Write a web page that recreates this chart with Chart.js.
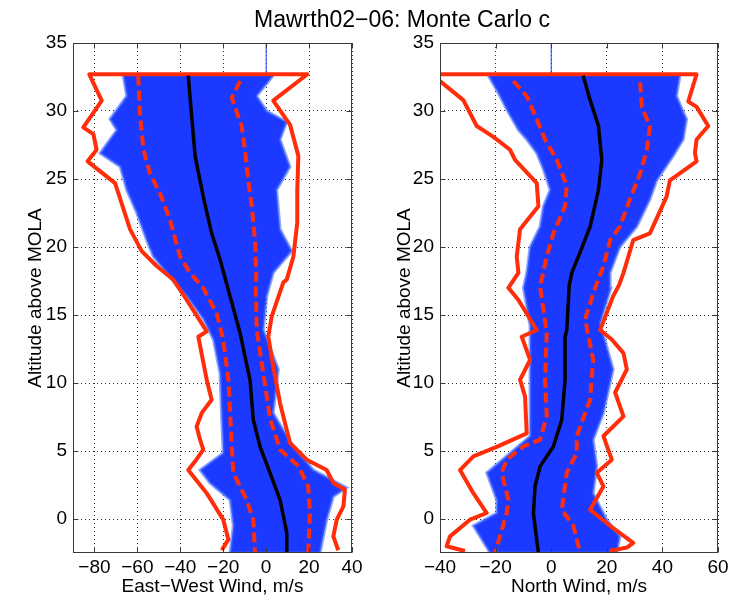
<!DOCTYPE html>
<html><head><meta charset="utf-8">
<script src="https://cdn.jsdelivr.net/npm/chart.js@4.4.1/dist/chart.umd.min.js"></script>
<style>
html,body{margin:0;padding:0;background:#fff;}
#wrap{position:relative;width:736px;height:600px;overflow:hidden;}
#c1{position:absolute;left:0;top:0;}
#c2{position:absolute;left:368px;top:0;}
#title{position:absolute;top:6px;left:202px;width:400px;text-align:center;font:23px 'Liberation Sans',Arial,sans-serif;color:#000;line-height:26px;white-space:nowrap;}
</style></head><body>
<div id="wrap">
<canvas id="c1" width="368" height="600" style="width:368px;height:600px"></canvas>
<canvas id="c2" width="368" height="600" style="width:368px;height:600px"></canvas>
<div id="title">Mawrth02−06: Monte Carlo c</div>
</div>
<script>
// ---- shared ticks ----
const altTicks = [0, 5, 10, 15, 20, 25, 30, 35];
const ewTicks = [-80, -60, -40, -20, 0, 20, 40];
const nsTicks = [-40, -20, 0, 20, 40, 60];
const topStub = [[0, 32.7], [0, 35]];

// ---- East-West panel: [wind m/s, altitude] ----
const ewOuterL = [[-82.4,32.7],[-76.6,30.76],[-85.2,28.8],[-80.5,28.3],[-79,27.15],[-83.2,26.3],[-70.4,24.7],[-63.4,21.3],[-58,19.7],[-51,18.6],[-44.8,17.8],[-43.3,17.6],[-37,16.1],[-27.7,13.8],[-31.6,13.4],[-27.7,10.24],[-25.4,8.77],[-30,7.8],[-32.4,6.8],[-30.8,5.83],[-29.3,5.1],[-33.1,4.24],[-36.3,3.6],[-27.7,1.9],[-20,-0.05],[-17.6,-1.5],[-20.7,-2.3]];
const ewOuterR = [[19.2,32.7],[3.3,30.76],[11.1,29.0],[15,26.7],[14.5,24.2],[14.5,21.8],[12.7,19.3],[9.6,17.6],[8,17.4],[2.6,14.9],[1,13.4],[3.3,11.2],[6.5,8.5],[11.1,5.6],[18.9,4.36],[28.2,3.6],[31.3,2.65],[36.7,2.15],[36,0.93],[32.9,-0.05],[31.3,-1.28],[33.6,-2.3]];
const ewDashL = [[-59.6,32.6],[-58.8,29.85],[-57.2,27.15],[-54.1,25.4],[-49.5,23.97],[-44.8,22],[-40.1,19.3],[-35.5,18.1],[-29.3,17.0],[-23,15.1],[-20,13.2],[-17.6,10.24],[-16.8,7.8],[-16,5.3],[-15.3,3.4],[-9.1,1.4],[-6,-0.05],[-5.2,-2.5]];
const ewDashR = [[-12.2,32.2],[-16,30.96],[-11.4,28.9],[-9.9,27.15],[-8.3,24.9],[-6.7,23],[-5.2,20.5],[-4.6,18.1],[-4.8,17.1],[-4.4,13.9],[-1.3,10.7],[1.8,7.4],[6.5,5.1],[15,3.9],[19.6,2.4],[20.4,0.44],[19.6,-2.5]];
const ewMean = [[-36.3,32.6],[-34.7,29.6],[-33.1,26.7],[-29.3,23.7],[-25.4,21],[-21.5,19.1],[-18.4,17.3],[-12.2,13.7],[-7.5,10.2],[-6,7.3],[-2.8,5.3],[1.8,3.4],[6.5,1.4],[9.6,-1.0],[9.6,-2.5]];
const ewBlueL = [[-66.6,32.6],[-65,31.1],[-72.8,29.4],[-69.6,28.6],[-77.4,26.9],[-68,25.9],[-65,24.2],[-60.3,22.5],[-55.7,20.5],[-52.6,19.3],[-46.3,18.1],[-41.7,17.2],[-37,16.4],[-29.3,14.7],[-24.6,13.2],[-21.5,10.7],[-20.7,7.3],[-20,4.85],[-30.8,3.6],[-26.2,2.65],[-16.8,1.4],[-15.3,-0.5],[-16.8,-2.5]];
const ewBlueR = [[3.3,32.6],[-4.4,31.1],[0.3,30],[9.6,29.2],[6.5,27.9],[11.1,25.9],[4.9,24.2],[6.5,21.3],[11.9,19.7],[3.3,18.1],[0.3,16.4],[-1.3,13.9],[5.7,11],[3.3,7.8],[12.7,5.3],[22,3.6],[37.5,2.3],[31.3,1.65],[28.2,-0.05],[25.1,-2.5]];

// ---- North panel ----
const nsOuterL = [[-43,32.7],[-40,32.2],[-31.6,30.8],[-26.8,28.9],[-20.8,28.1],[-14.8,27.15],[-13,26.4],[-5.2,24.7],[-4.6,23],[-11.2,21.3],[-12.4,19.3],[-11.8,18.1],[-15.4,17],[-11.8,16.1],[-5.2,13.9],[-10.6,13.4],[-7.6,11.7],[-11.2,10.24],[-9.4,9.0],[-8.8,6.3],[-19.6,5.3],[-28,4.6],[-32.8,3.6],[-28,1.9],[-23.2,0.44],[-29.2,-0.05],[-36.4,-1.28],[-37.6,-2.0],[-31,-2.35]];
const nsOuterR = [[52.3,32.7],[49.3,30.7],[52.3,30.3],[56.5,28.9],[52.3,27.9],[51.7,26.9],[52.3,26.3],[42.7,24.9],[41.5,23.7],[35.5,21],[29.5,20.5],[26,18.1],[24.4,17.2],[22.3,16.4],[17.6,13.9],[21.8,13.2],[26,12.2],[27.2,11],[23,9.3],[26,7.55],[18.8,6.1],[21.8,4.36],[16.4,3.4],[18.8,2.4],[14,0.68],[21.2,-0.5],[29.5,-1.76],[27.2,-2.1],[21,-2.35]];
const nsDashL = [[-13.6,32.2],[-8.8,31.1],[-5.2,29.4],[-2.2,27.9],[2,26.4],[5.6,24.5],[5,23],[0.8,21],[-1.6,19.3],[-4,17.1],[-1.6,13.7],[-2.2,10.24],[-1.6,7.55],[-4,5.83],[-10,5.34],[-16,4.36],[-17.8,3.4],[-15.4,1.4],[-16,0.44],[-20.2,-2.5]];
const nsDashR = [[32,32.1],[32.6,30.3],[35.5,28.9],[34.4,27.15],[32,25.4],[28.3,23.5],[24.7,21.5],[21.2,20.5],[18.8,18.6],[15.8,17],[12.2,14.7],[15.1,11.7],[14,8.77],[9.2,6.1],[9.2,4.85],[5.6,3.4],[3.8,0.68],[8,-0.5],[10.4,-2.5]];
const nsMean = [[11.5,32.6],[14,30.8],[17,28.9],[18.2,26.4],[17,24.2],[14,21.5],[10.4,19.6],[7.4,18.1],[6.5,17.2],[5.6,13.9],[5,13.4],[5,10.24],[3.8,7.3],[0.8,5.34],[-4,3.87],[-5.8,2.4],[-6.4,0.44],[-4.6,-2.5]];
const nsBlueL = [[-22.6,32.6],[-19,31.3],[-16,30.1],[-11.8,28.6],[-8.8,27.9],[-5.2,26.9],[-2.8,25.7],[-0.4,24.2],[-2.8,23],[-4,21.5],[-7.6,20],[-8.8,18.1],[-10,17],[-7.6,14.2],[-7.6,11.5],[-7.6,8.3],[-7.6,6.1],[-14.8,4.85],[-23.2,3.4],[-19.6,1.4],[-19.6,0.44],[-28,-0.5],[-22,-2.5]];
const nsBlueR = [[46.3,32.6],[45.1,31.1],[48.7,29.4],[47.5,27.9],[43.9,26.7],[38,24.9],[35.5,23.5],[30.8,21.5],[24.7,20],[21.2,18.1],[21.5,17],[17.6,14.4],[22.3,11],[18.8,7.8],[15.1,5.83],[16.4,3.87],[15.1,1.9],[20,-0.05],[24.7,-1.28],[23.6,-2.5]];

const FONT = "'Liberation Sans', Arial, sans-serif";
const RED = 'rgb(255,45,10)';
const BLUE = 'rgb(28,58,255)';
const pts = a => a.map(p => ({x: p[0], y: p[1]}));
const minus = v => String(v).replace('-', '\u2212');

const framePlugin = {
  id: 'frame',
  afterDraw(chart) {
    const {ctx, chartArea: ca, scales: {x, y}} = chart;
    const L = Math.round(ca.left) + 0.5, R = Math.round(ca.right) - 0.5;
    const T = Math.round(ca.top) + 0.5, B = Math.round(ca.bottom) - 0.5;
    ctx.save();
    ctx.strokeStyle = '#3a3a3a';
    ctx.lineWidth = 1;
    ctx.strokeRect(L, T, R - L, B - T);
    ctx.beginPath();
    x.ticks.forEach(t => {
      const px = Math.round(x.getPixelForValue(t.value)) + 0.5;
      ctx.moveTo(px, B); ctx.lineTo(px, B - 5);
      ctx.moveTo(px, T); ctx.lineTo(px, T + 5);
    });
    y.ticks.forEach(t => {
      const py = Math.round(y.getPixelForValue(t.value)) + 0.5;
      ctx.moveTo(L, py); ctx.lineTo(L + 5, py);
      ctx.moveTo(R, py); ctx.lineTo(R - 5, py);
    });
    ctx.stroke();
    ctx.restore();
  }
};

function makePanel(id, d) {
  const polygon = pts(d.blueL.concat(d.blueR.slice().reverse()));
  const outer = pts(d.outerL.slice().reverse().concat(d.outerR));
  new Chart(document.getElementById(id), {
    type: 'scatter',
    data: {
      datasets: [
        {data: pts(d.mean), showLine: true, borderColor: '#000', borderWidth: 3.5, pointRadius: 0, order: 0},
        {data: pts(d.dashL), showLine: true, borderColor: RED, borderWidth: 4, borderDash: [10, 5], pointRadius: 0, order: 1},
        {data: pts(d.dashR), showLine: true, borderColor: RED, borderWidth: 4, borderDash: [10, 5], pointRadius: 0, order: 1},
        {data: outer, showLine: true, borderColor: RED, borderWidth: 4, borderJoinStyle: 'round', pointRadius: 0, order: 2},
        {data: pts(topStub), showLine: true, borderColor: BLUE, borderWidth: 1, pointRadius: 0, order: 3},
        {data: polygon, showLine: true, fill: 'shape', backgroundColor: BLUE, borderColor: 'rgba(70,110,255,0.6)', borderWidth: 3, pointRadius: 0, order: 4}
      ]
    },
    options: {
      responsive: false,
      animation: false,
      events: [],
      layout: {padding: {top: 43, right: d.rightPad, left: 0, bottom: 0}},
      plugins: {legend: {display: false}, tooltip: {enabled: false}},
      scales: {
        x: {
          type: 'linear', min: d.xmin, max: d.xmax,
          afterBuildTicks: s => { s.ticks = d.xticks.map(v => ({value: v})); },
          afterFit: s => { s.height = 47; },
          grid: {color: 'rgba(0,0,0,0.8)', lineWidth: 1, drawTicks: false},
          border: {display: false, dash: [1, 3]},
          ticks: {color: '#000', font: {family: FONT, size: 19}, padding: 3, maxRotation: 0, callback: minus},
          title: {display: true, text: d.xlabel, color: '#000', font: {family: FONT, size: 19}, padding: {top: 0, bottom: 2}}
        },
        y: {
          type: 'linear', min: -2.5, max: 35,
          afterBuildTicks: s => { s.ticks = altTicks.map(v => ({value: v})); },
          afterFit: s => { s.width = d.yw; },
          grid: {color: 'rgba(0,0,0,0.8)', lineWidth: 1, drawTicks: false},
          border: {display: false, dash: [1, 3]},
          ticks: {color: '#000', font: {family: FONT, size: 19}, padding: 6, callback: minus},
          title: {display: true, text: 'Altitude above MOLA', color: '#000', font: {family: FONT, size: 19}, padding: {top: d.ytp, bottom: 0}}
        }
      }
    },
    plugins: [framePlugin]
  });
}

makePanel('c1', {outerL: ewOuterL, outerR: ewOuterR, dashL: ewDashL, dashR: ewDashR, mean: ewMean, blueL: ewBlueL, blueR: ewBlueR,
  xmin: -90, xmax: 40, xticks: ewTicks, xlabel: 'East\u2212West Wind, m/s', rightPad: 16, yw: 73, ytp: 24});
makePanel('c2', {outerL: nsOuterL, outerR: nsOuterR, dashL: nsDashL, dashR: nsDashR, mean: nsMean, blueL: nsBlueL, blueR: nsBlueR,
  xmin: -40, xmax: 60, xticks: nsTicks, xlabel: 'North Wind, m/s', rightPad: 18, yw: 72, ytp: 25});
</script>
</body></html>
